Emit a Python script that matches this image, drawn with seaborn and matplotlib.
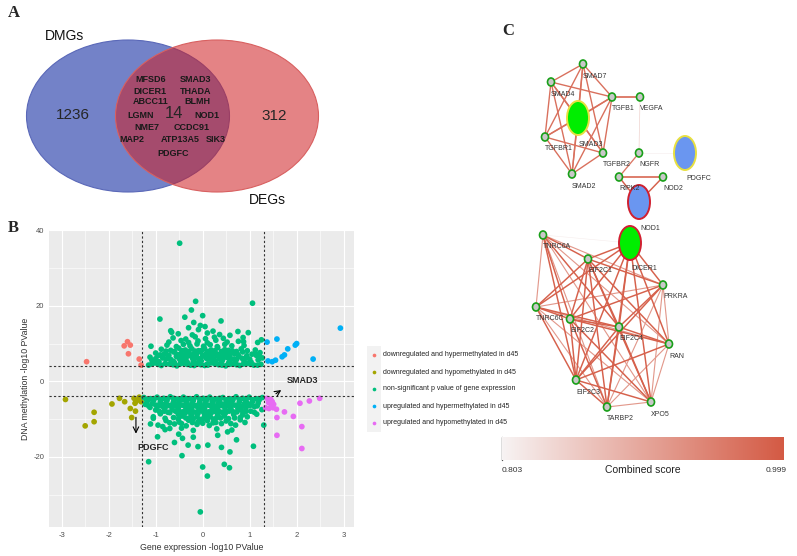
import numpy as np
import pandas as pd
import matplotlib
matplotlib.use("Agg")
import matplotlib.pyplot as plt
import seaborn as sns
from matplotlib.patches import Ellipse, Rectangle
from matplotlib.colors import LinearSegmentedColormap

sns.set_style("white")
plt.rcParams['font.family'] = ['Liberation Sans', 'DejaVu Sans']
plt.rcParams['axes.unicode_minus'] = False

# ---------------- data ----------------
# panel A (venn)
venn_sets = ["DMGs", "DEGs"]
venn_counts = [1236, 14, 312]
venn_genes = [["MFSD6", "SMAD3"], ["DICER1", "THADA"], ["ABCC11", "BLMH"],
              ["LGMN", "NOD1"], ["NME7", "CCDC91"], ["MAP2", "ATP13A5", "SIK3"],
              ["PDGFC"]]

# panel B (scatter)
red_pts = [(-2.47, 5.2), (-1.67, 9.4), (-1.60, 10.5), (-1.54, 9.6), (-1.58, 7.3),
           (-1.35, 5.9), (-1.31, 4.3)]
olive_pts = [(-2.92, -4.8), (-2.50, -11.8), (-2.31, -8.2), (-2.31, -10.7), (-1.93, -6.0),
             (-1.77, -4.5), (-1.66, -5.4), (-1.54, -7.2), (-1.51, -9.6), (-1.46, -4.5),
             (-1.44, -5.8), (-1.41, -5.2), (-1.43, -7.9), (-1.35, -4.2), (-1.31, -5.4)]
blue_pts = [(1.37, 10.4), (1.58, 11.2), (1.39, 5.4), (1.48, 5.2), (1.55, 5.6), (1.69, 6.5),
            (1.74, 7.0), (1.81, 8.6), (1.97, 9.6), (2.00, 10.0), (2.35, 5.9), (2.93, 14.1)]
pink_pts = [(1.37, -4.5), (1.43, -5.0), (1.48, -5.4), (1.51, -6.1), (1.34, -7.0),
            (1.41, -7.2), (1.50, -7.0), (1.57, -7.4), (1.58, -9.6), (1.74, -8.1),
            (1.93, -9.3), (2.07, -5.8), (2.27, -5.2), (2.49, -4.5), (2.11, -12.0),
            (2.11, -17.8), (1.58, -14.3), (1.45, -4.8), (1.40, -5.6), (1.46, -6.5)]
green_up = [
    (-1.15, 4.3), (-1.02, 4.9), (-0.88, 4.2), (-0.71, 4.6), (-0.55, 4.1), (-0.41, 4.8),
    (-0.26, 4.3), (-0.11, 4.7), (0.04, 4.2), (0.19, 4.9), (0.34, 4.4), (0.49, 4.1),
    (0.64, 4.6), (0.79, 4.2), (0.94, 4.8), (1.09, 4.3), (1.24, 4.5),
    (-1.08, 5.6), (-0.93, 5.2), (-0.78, 5.9), (-0.62, 5.3), (-0.48, 5.7), (-0.33, 5.1),
    (-0.18, 5.8), (-0.03, 5.4), (0.12, 5.9), (0.27, 5.3), (0.42, 5.6), (0.57, 5.2),
    (0.72, 5.8), (0.88, 5.4), (1.03, 5.1), (1.18, 5.7),
    (-1.12, 6.4), (-0.95, 6.8), (-0.74, 6.2), (-0.56, 6.6), (-0.42, 6.1), (-0.28, 6.9),
    (-0.13, 6.3), (0.01, 6.7), (0.15, 6.2), (0.30, 6.8), (0.45, 6.4), (0.60, 6.0),
    (0.77, 6.6), (0.93, 6.3), (1.14, 6.9), (1.27, 6.2),
    (-1.00, 7.5), (-0.82, 7.2), (-0.62, 7.8), (-0.47, 7.3), (-0.34, 7.7), (-0.20, 7.2),
    (-0.06, 7.9), (0.08, 7.4), (0.22, 7.7), (0.36, 7.1), (0.50, 7.6), (0.68, 7.3),
    (0.85, 7.8), (1.05, 7.2), (1.22, 7.6),
    (-0.88, 8.5), (-0.68, 8.2), (-0.51, 8.8), (-0.37, 8.3), (-0.23, 8.6), (-0.09, 8.1),
    (0.04, 8.7), (0.18, 8.3), (0.32, 8.9), (0.47, 8.4), (0.63, 8.1), (0.82, 8.6), (1.12, 8.3),
    (-1.10, 9.3), (-0.76, 9.6), (-0.56, 9.2), (-0.41, 9.8), (-0.27, 9.4), (-0.12, 9.9),
    (0.02, 9.3), (0.16, 9.7), (0.31, 9.2), (0.47, 9.8), (0.62, 9.4), (0.88, 9.5),
    (-0.72, 10.4), (-0.46, 10.8), (-0.30, 10.3), (-0.10, 10.7), (0.10, 10.2), (0.28, 10.9),
    (0.52, 10.4), (0.76, 10.6), (1.17, 10.3),
    (-0.63, 11.5), (-0.36, 11.2), (-0.16, 11.8), (0.06, 11.3), (0.25, 11.7), (0.44, 11.4),
    (0.86, 11.6), (1.25, 11.0),
    (-0.52, 12.6), (-0.22, 12.3), (0.10, 12.8), (0.36, 12.4), (0.58, 12.2), (0.97, 12.9),
    (-0.68, 13.4), (-0.09, 13.7), (0.22, 13.3), (-0.30, 14.2), (0.05, 14.5),
    (-0.15, 4.5), (0.10, 4.6), (0.25, 5.6), (-0.05, 6.0), (0.40, 5.0), (-0.35, 6.4),
    (0.55, 4.8), (0.20, 7.0), (-0.20, 5.3), (0.70, 5.0), (-0.60, 4.9), (0.35, 6.1),
    (-0.91, 16.5), (-0.66, 13.0), (-0.49, 36.6), (-0.15, 21.2), (-0.24, 18.9), (1.06, 20.7),
    (0.39, 16.0), (-0.38, 17.0), (-0.05, 14.8), (-0.19, 15.6), (0.00, 17.4), (0.75, 13.2),
    (0.87, 10.5), (1.20, 7.0)]
green_up_fill = [
    (-1.08, 4.6), (-0.95, 4.5), (-0.80, 4.7), (-0.63, 4.4), (-0.48, 4.6), (-0.33, 4.5),
    (-0.18, 4.2), (-0.04, 4.4), (0.11, 4.3), (0.26, 4.6), (0.41, 4.3), (0.57, 4.5),
    (0.72, 4.4), (0.87, 4.6), (1.02, 4.5), (1.17, 4.3),
    (-1.00, 6.0), (-0.85, 6.2), (-0.68, 5.8), (-0.50, 6.1), (-0.36, 5.9), (-0.22, 6.2),
    (-0.07, 5.8), (0.08, 6.1), (0.22, 6.0), (0.37, 5.8), (0.52, 6.3), (0.67, 5.9),
    (0.84, 6.1), (1.00, 5.9), (1.20, 6.1),
    (-0.90, 7.0), (-0.72, 6.9), (-0.55, 7.1), (-0.40, 6.8), (-0.27, 7.0), (-0.13, 7.2),
    (0.00, 6.9), (0.14, 7.1), (0.29, 7.3), (0.43, 6.9), (0.58, 7.0), (0.75, 7.1),
    (0.94, 6.8), (1.12, 7.3),
    (-0.78, 8.0), (-0.60, 7.9), (-0.44, 8.1), (-0.30, 7.9), (-0.16, 8.0), (-0.02, 8.2),
    (0.12, 7.9), (0.26, 8.1), (0.40, 7.9), (0.55, 8.2), (0.72, 7.9), (0.95, 8.1)]
green_down = [
    (-1.25, -4.3), (-1.11, -4.6), (-0.97, -4.2), (-0.83, -4.5), (-0.69, -4.1), (-0.55, -4.7),
    (-0.41, -4.2), (-0.27, -4.6), (-0.13, -4.1), (0.01, -4.5), (0.15, -4.2), (0.29, -4.7),
    (0.43, -4.3), (0.57, -4.6), (0.71, -4.1), (0.85, -4.5), (0.99, -4.2), (1.13, -4.6), (1.27, -4.3),
    (-1.18, -5.3), (-1.04, -5.0), (-0.90, -5.5), (-0.76, -5.1), (-0.62, -5.4), (-0.48, -5.0),
    (-0.34, -5.5), (-0.20, -5.1), (-0.06, -5.4), (0.08, -5.0), (0.22, -5.5), (0.36, -5.1),
    (0.50, -5.4), (0.64, -5.0), (0.78, -5.5), (0.92, -5.1), (1.06, -5.4), (1.20, -5.0),
    (-1.22, -6.1), (-1.07, -5.8), (-0.93, -6.3), (-0.79, -5.9), (-0.65, -6.2), (-0.51, -5.8),
    (-0.37, -6.3), (-0.23, -5.9), (-0.09, -6.2), (0.05, -5.8), (0.19, -6.3), (0.33, -5.9),
    (0.47, -6.2), (0.61, -5.8), (0.75, -6.3), (0.89, -5.9), (1.03, -6.2), (1.18, -5.8),
    (-1.12, -6.9), (-0.95, -6.6), (-0.80, -7.0), (-0.66, -6.7), (-0.52, -7.1), (-0.38, -6.6),
    (-0.24, -7.0), (-0.10, -6.7), (0.04, -7.1), (0.18, -6.6), (0.32, -7.0), (0.46, -6.7),
    (0.60, -7.1), (0.76, -6.6), (0.92, -7.0), (1.10, -6.7), (1.26, -7.5),
    (-1.00, -7.6), (-0.82, -7.9), (-0.65, -7.5), (-0.50, -8.0), (-0.36, -7.6), (-0.22, -7.9),
    (-0.08, -7.5), (0.06, -8.0), (0.20, -7.6), (0.34, -7.9), (0.48, -7.5), (0.64, -8.0),
    (0.82, -7.6), (1.02, -7.9),
    (-0.90, -8.6), (-0.70, -8.3), (-0.52, -8.8), (-0.38, -8.4), (-0.24, -8.9), (-0.10, -8.5),
    (0.04, -8.8), (0.18, -8.4), (0.32, -8.9), (0.48, -8.5), (0.66, -8.8), (0.86, -8.4), (1.15, -8.7),
    (-1.05, -9.4), (-0.62, -9.6), (-0.44, -9.2), (-0.28, -9.7), (-0.12, -9.3), (0.02, -9.8),
    (0.16, -9.4), (0.30, -9.6), (0.46, -9.2), (0.68, -9.7), (0.95, -9.4),
    (-0.78, -10.4), (-0.50, -10.8), (-0.30, -10.3), (-0.10, -10.7), (0.10, -10.4),
    (0.28, -10.9), (0.50, -10.5), (0.80, -10.2),
    (-0.95, -11.6), (-0.60, -11.3), (-0.35, -11.8), (-0.12, -11.4), (0.14, -11.7),
    (0.40, -11.2), (0.70, -11.6), (1.30, -11.6),
    (-0.80, -12.8), (-0.45, -12.4), (-0.20, -13.0), (0.30, -12.6), (0.62, -12.9),
    (-0.40, -4.9), (0.20, -5.2), (-0.15, -6.5), (0.40, -6.0), (0.00, -7.3), (-0.60, -6.0),
    (0.55, -5.6), (-0.30, -8.1), (0.12, -8.9), (0.75, -7.2), (-0.85, -6.2), (0.95, -5.8),
    (-0.05, -34.6), (0.00, -22.7), (0.10, -25.1), (-0.44, -19.7), (-1.15, -21.3),
    (0.46, -22.0), (0.57, -22.9), (1.08, -17.2), (0.58, -18.7), (-1.11, -11.3),
    (-1.05, -9.8), (-0.96, -14.7), (-0.85, -12.0), (-0.70, -12.5), (-0.51, -14.0),
    (-0.43, -15.1), (-0.31, -16.9), (-0.10, -17.3), (0.11, -16.9), (0.32, -14.3),
    (0.53, -13.4), (0.85, -8.9), (-0.60, -16.2), (0.40, -17.5), (-0.20, -14.8), (0.72, -15.5)]
green_down_fill = [
    (-1.20, -4.8), (-1.04, -4.6), (-0.90, -4.9), (-0.76, -4.7), (-0.62, -4.5), (-0.48, -4.8),
    (-0.34, -4.6), (-0.20, -4.9), (-0.06, -4.7), (0.08, -4.6), (0.22, -4.8), (0.36, -4.5),
    (0.50, -4.9), (0.64, -4.7), (0.78, -4.8), (0.92, -4.6), (1.06, -4.9), (1.20, -4.6),
    (-1.15, -6.5), (-1.00, -6.3), (-0.86, -6.6), (-0.72, -6.4), (-0.58, -6.5), (-0.44, -6.3),
    (-0.30, -6.6), (-0.16, -6.4), (-0.02, -6.5), (0.12, -6.3), (0.26, -6.6), (0.40, -6.4),
    (0.54, -6.5), (0.68, -6.3), (0.84, -6.6), (1.00, -6.4), (1.16, -6.5),
    (-0.92, -8.0), (-0.74, -8.2), (-0.58, -7.9), (-0.43, -8.1), (-0.29, -8.0), (-0.15, -8.2),
    (-0.01, -7.9), (0.13, -8.1), (0.27, -8.0), (0.41, -8.2), (0.56, -7.9), (0.73, -8.1),
    (0.92, -8.0), (1.10, -8.2),
    (-0.80, -9.8), (-0.52, -10.0), (-0.36, -9.7), (-0.20, -9.9), (-0.05, -10.1), (0.09, -9.8),
    (0.23, -10.0), (0.38, -9.7), (0.55, -9.9), (0.80, -9.6),
    (-0.70, -11.0), (-0.45, -11.2), (-0.22, -10.9), (0.00, -11.1), (0.22, -11.0),
    (0.60, -11.2), (0.90, -10.9)]

groups = ["downregulated and hypermethylated in d45",
          "downregulated and hypomethylated in d45",
          "non-significant p value of gene expression",
          "upregulated and hypermethylated in d45",
          "upregulated and hypomethylated in d45"]
group_colors = ["#F8766D", "#A3A500", "#00BF7D", "#00B0F6", "#E76BF3"]

# panel C (network)
node_names = ["SMAD7", "SMAD4", "TGFB1", "VEGFA", "SMAD3", "TGFBR1", "TGFBR2", "NGFR",
              "PDGFC", "SMAD2", "RIPK2", "NOD2", "NOD1", "DICER1", "TNRC6A", "EIF2C1",
              "PRKRA", "TNRC6C", "EIF2C2", "EIF2C4", "RAN", "EIF2C3", "XPO5", "TARBP2"]
node_x = [583, 551, 612, 640, 578, 545, 603, 639, 685, 572, 619, 663, 639, 630, 543, 588,
          663, 536, 570, 619, 669, 576, 651, 607]
node_y = [64, 82, 97, 97, 118, 137, 153, 153, 153, 174, 177, 177, 202, 243, 235, 259,
          285, 307, 319, 327, 344, 380, 402, 407]
big_nodes = {"SMAD3": ("#00EE00", "#E8E040"), "PDGFC": ("#6A96F0", "#E8E040"),
             "NOD1": ("#6A96F0", "#D02030"), "DICER1": ("#00EE00", "#D02030")}

tgf = ["SMAD7", "SMAD4", "TGFB1", "SMAD3", "TGFBR1", "TGFBR2", "SMAD2"]
mirna = ["TNRC6A", "EIF2C1", "DICER1", "PRKRA", "TNRC6C", "EIF2C2", "EIF2C4", "RAN",
         "EIF2C3", "XPO5", "TARBP2"]
edges = [("TGFB1", "VEGFA", 0.999), ("VEGFA", "NGFR", 0.84), ("NGFR", "PDGFC", 0.81),
         ("NGFR", "RIPK2", 0.96), ("RIPK2", "NOD2", 0.999), ("RIPK2", "NOD1", 0.99),
         ("NOD2", "NOD1", 0.99), ("TNRC6A", "DICER1", 0.81)]
for i, a in enumerate(tgf):
    for b in tgf[i + 1:]:
        edges.append((a, b, 0.97))
for i, a in enumerate(mirna):
    for b in mirna[i + 1:]:
        if (a, b) == ("TNRC6A", "DICER1"):
            continue
        s = 0.99 if "DICER1" in (a, b) or "EIF2C" in a + b else 0.92
        edges.append((a, b, s))

score_min, score_max = 0.803, 0.999

# ---------------- figure ----------------
fig = plt.figure(figsize=(7.97, 5.56), dpi=100)
ov = fig.add_axes([0, 0, 1, 1])
ov.set_xlim(0, 797)
ov.set_ylim(556, 0)
ov.axis("off")

# -------------------------------
# A. Venn diagram
# -------------------------------
ov.add_patch(Ellipse((128, 116), 203, 152, facecolor="#7382C8", edgecolor="#5A68B8", lw=0.8))
ov.add_patch(Ellipse((217, 116), 203, 152, facecolor="#CF1E22", alpha=0.55,
                     edgecolor="none"))
ov.add_patch(Ellipse((217, 116), 203, 152, facecolor="none", edgecolor="#D86060", lw=0.8))
ov.text(65, 36, venn_sets[0], fontsize=10, ha="center", va="center", color="#111111")
ov.text(267, 200, venn_sets[1], fontsize=10, ha="center", va="center", color="#111111")
ov.text(73, 115, str(venn_counts[0]), fontsize=11, ha="center", va="center")
ov.text(274, 116, str(venn_counts[2]), fontsize=11, ha="center", va="center")
ov.text(174, 114, str(venn_counts[1]), fontsize=12, ha="center", va="center")
row_y = [79, 91, 102, 115, 127, 140, 153]
row_x = [[151, 196], [150, 196], [151, 197], [141, 207], [147, 192], [132, 180, 216], [173]]
for genes, y, xs in zip(venn_genes, row_y, row_x):
    for g, x in zip(genes, xs):
        ov.text(x, y, g, fontsize=6.5, fontweight="bold", ha="center", va="center",
                color="#1a1a1a")
ov.text(14, 13, "A", fontsize=12, fontweight="bold", family="Liberation Serif",
        ha="center", va="center")

# -------------------------------
# B. Scatter
# -------------------------------
rows = []
green_all = green_up + green_up_fill + green_down + green_down_fill
for name, pts in zip(groups, [red_pts, olive_pts, green_all, blue_pts, pink_pts]):
    for x, y in pts:
        rows.append((x, y, name))
df = pd.DataFrame(rows, columns=["expr", "meth", "group"])

ax = fig.add_axes([49 / 797, 1 - 527 / 556, 305 / 797, 297 / 556])
ax.set_facecolor("#EBEBEB")
sns.scatterplot(data=df, x="expr", y="meth", hue="group", hue_order=groups,
                palette=group_colors, s=17, linewidth=0, legend=False, ax=ax, zorder=3)
ax.set_xlim(-3.27, 3.22)
ax.set_ylim(-38.6, 40.1)
ax.set_xticks([-3, -2, -1, 0, 1, 2, 3])
ax.set_yticks([-20, 0, 20, 40])
ax.set_xticks(np.arange(-2.5, 3, 1), minor=True)
ax.set_yticks([-30, -10, 10, 30], minor=True)
ax.grid(which="major", color="white", lw=0.8, zorder=0)
ax.grid(which="minor", color="white", lw=0.4, zorder=0)
ax.set_axisbelow(True)
for sp in ax.spines.values():
    sp.set_visible(False)
ax.tick_params(which="major", length=2, width=0.5, color="#333333", labelsize=5.5,
               labelcolor="#4D4D4D", pad=1.5)
ax.tick_params(which="minor", length=0)
ax.set_xlabel("Gene expression -log10 PValue", fontsize=6.3, color="#333333", labelpad=3)
ax.set_ylabel("DNA methylation -log10 PValue", fontsize=6.3, color="#333333", labelpad=2)
for v in (-1.3, 1.3):
    ax.axvline(v, color="#333333", ls=(0, (2, 2)), lw=0.8, zorder=4)
for h in (-4, 4):
    ax.axhline(h, color="#333333", ls=(0, (2, 2)), lw=0.8, zorder=4)
ax.annotate("", xy=(1.72, -1.9), xytext=(1.51, -3.7),
            arrowprops=dict(arrowstyle="->", color="black", lw=0.8), zorder=5)
ax.text(1.78, 0.2, "SMAD3", fontsize=6.5, fontweight="bold", va="center", zorder=5)
ax.annotate("", xy=(-1.42, -14.6), xytext=(-1.42, -8.8),
            arrowprops=dict(arrowstyle="->", color="black", lw=0.8), zorder=5)
ax.text(-1.40, -17.6, "PDGFC", fontsize=6.5, fontweight="bold", va="center", zorder=5)
ov.text(8, 228, "B", fontsize=12, fontweight="bold", family="Liberation Serif",
        ha="left", va="center")

# legend on the right
ov.add_patch(Rectangle((367, 346), 14, 86, facecolor="#F2F2F2", edgecolor="none"))
for i, (g, c) in enumerate(zip(groups, group_colors)):
    yy = 355 + i * 17
    ov.scatter([374], [yy], s=7, color=c, linewidths=0)
    ov.text(383, yy, g, fontsize=5, color="#222222", va="center", ha="left")

# -------------------------------
# C. Network
# -------------------------------
cmap = LinearSegmentedColormap.from_list("score", ["#F7F3F3", "#D45A44"])
pos = {n: (x, y) for n, x, y in zip(node_names, node_x, node_y)}
for a, b, s in sorted(edges, key=lambda e: e[2]):
    t = (s - score_min) / (score_max - score_min)
    ov.plot([pos[a][0], pos[b][0]], [pos[a][1], pos[b][1]], color=cmap(min(t, 1.0)),
            lw=0.4 + 0.7 * t, zorder=2, solid_capstyle="round")
for n, x, y in zip(node_names, node_x, node_y):
    if n in big_nodes:
        fc, ec = big_nodes[n]
        ov.add_patch(Ellipse((x, y), 22, 34, facecolor=fc, edgecolor=ec, lw=1.4, zorder=3))
        ov.text(x + 1, y + 26, n, fontsize=5, color="#333333", ha="left", va="center", zorder=4)
    else:
        ov.add_patch(Ellipse((x, y), 7, 8, facecolor="#C8C8C8", edgecolor="#18A018",
                             lw=1.2, zorder=3))
        ov.text(x, y + 12, n, fontsize=5, color="#333333", ha="left", va="center", zorder=4)
ov.text(508, 31, "C", fontsize=12, fontweight="bold", family="Liberation Serif",
        ha="center", va="center")

# colour bar
cax = fig.add_axes([502 / 797, 1 - 460 / 556, 282 / 797, 23 / 556])
cax.imshow(np.linspace(0, 1, 256)[None, :], aspect="auto", cmap=cmap, extent=[0, 1, 0, 1])
cax.axis("off")
ov.plot([502, 502], [437, 460], color="#555555", lw=1.0)
ov.text(502, 470, f"{score_min:.3f}", fontsize=6, color="#333333", ha="left", va="center")
ov.text(643, 470, "Combined score", fontsize=7.5, color="#222222", ha="center", va="center")
ov.text(787, 470, f"{score_max:.3f}", fontsize=6, color="#333333", ha="right", va="center")

fig.savefig("out.png", dpi=100)
